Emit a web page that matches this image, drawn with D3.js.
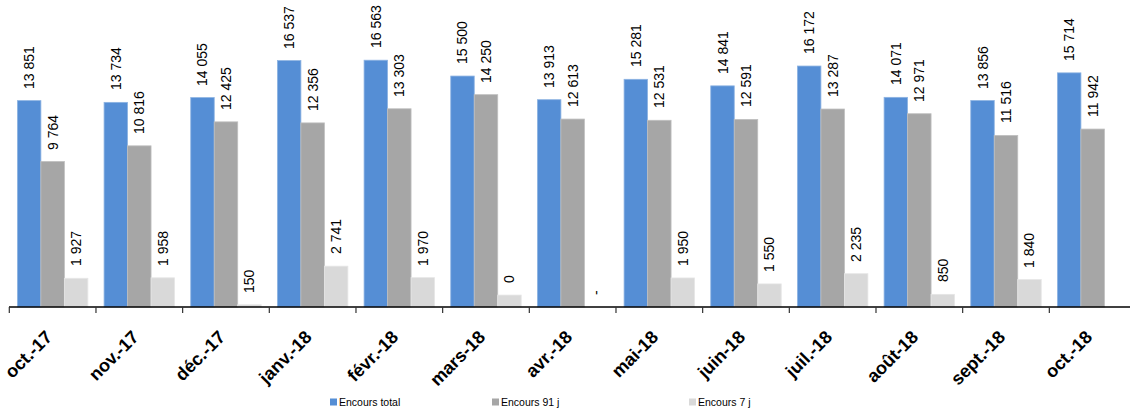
<!DOCTYPE html>
<html>
<head>
<meta charset="utf-8">
<script src="https://cdn.jsdelivr.net/npm/d3@7"></script>
<style>
  html, body { margin: 0; padding: 0; background: #fff; }
  #wrap { position: relative; width: 1130px; height: 413px; overflow: hidden; }
  svg { position: absolute; left: 0; top: 0; display: block; font-family: "Liberation Sans", Arial, sans-serif; }
  .lbl { position: absolute; white-space: nowrap; font-family: "Liberation Sans", Arial, sans-serif; color: #000; }
  .val { font-size: 14px; line-height: 16px; height: 16px; transform-origin: 0 0; transform: rotate(-90deg); }
  .cat { font-size: 18px; font-weight: bold; line-height: 20px; height: 20px; transform-origin: 100% 50%; transform: rotate(-45deg); }
</style>
</head>
<body>
<div id="wrap"><svg id="chart" width="1130" height="413"></svg></div>
<script>
// ---- data ----
const categories = ["oct.-17", "nov.-17", "déc.-17", "janv.-18", "févr.-18", "mars-18", "avr.-18",
                    "mai-18", "juin-18", "juil.-18", "août-18", "sept.-18", "oct.-18"];
const seriesNames = ["Encours total", "Encours 91 j", "Encours 7 j"];
const encoursTotal = [13851, 13734, 14055, 16537, 16563, 15500, 13913, 15281, 14841, 16172, 14071, 13856, 15714];
const encours91j   = [9764, 10816, 12425, 12356, 13303, 14250, 12613, 12531, 12591, 13287, 12971, 11516, 11942];
const encours7j    = [1927, 1958, 150, 2741, 1970, 800, 0, 1950, 1550, 2235, 850, 1840, null];
const labels7j     = ["1 927", "1 958", "150", "2 741", "1 970", "0", "-", "1 950", "1 550", "2 235", "850", "1 840", ""];
const colors = ["#558ED5", "#A6A6A6", "#D9D9D9"];
const strokes = ["#8DB3E2", "#BFBFBF", "#E6E6E6"];

// ---- layout ----
const svg = d3.select("#chart");
const wrap = d3.select("#wrap");
const baseY = 307;
const fmt = v => d3.format(",")(v).replace(/,/g, " ");

const x0 = d3.scaleBand().domain(categories).range([9.3, 1136]).paddingInner(0.187).paddingOuter(0.0935);
const x1 = d3.scaleBand().domain([0, 1, 2]).range([0, x0.bandwidth()]);
const y = d3.scaleLinear().domain([0, 20000]).range([baseY, 9]);

const series = [encoursTotal, encours91j, encours7j];
const labelSets = [encoursTotal.map(fmt), encours91j.map(fmt), labels7j];

const rows = [];
categories.forEach((c, i) => {
  series.forEach((vals, s) => {
    rows.push({ cat: c, s: s, v: vals[i], label: labelSets[s][i] });
  });
});

svg.selectAll("rect.bar")
  .data(rows.filter(r => r.v !== null && r.v > 0))
  .join("rect")
  .attr("class", "bar")
  .attr("x", r => x0(r.cat) + x1(r.s))
  .attr("width", x1.bandwidth())
  .attr("y", r => y(r.v))
  .attr("height", r => baseY - y(r.v))
  .attr("fill", r => colors[r.s])
  .attr("stroke", r => strokes[r.s])
  .attr("stroke-width", 0.8);

// value labels (rotated -90, reading upward from above the bar)
wrap.selectAll("div.val")
  .data(rows.filter(r => r.label !== ""))
  .join("div")
  .attr("class", "lbl val")
  .style("left", r => (x0(r.cat) + x1(r.s) + x1.bandwidth() / 2 - 8) + "px")
  .style("top", r => (y(r.v || 0) - 12) + "px")
  .text(r => r.label);

// ---- x axis ----
const step = x0.step();
svg.append("line")
  .attr("x1", 9).attr("x2", 1130).attr("y1", baseY).attr("y2", baseY)
  .attr("stroke", "#000").attr("stroke-width", 1.5);
const tickXs = d3.range(categories.length + 1).map(i => x0.range()[0] + i * step);
svg.selectAll("line.tick").data(tickXs).join("line")
  .attr("class", "tick")
  .attr("x1", d => d).attr("x2", d => d)
  .attr("y1", baseY).attr("y2", baseY + 6)
  .attr("stroke", "#333").attr("stroke-width", 1.2);

// category labels (rotated -45, ending near the band centre)
wrap.selectAll("div.cat")
  .data(categories)
  .join("div")
  .attr("class", "lbl cat")
  .style("right", d => (1130 - (x0(d) + x0.bandwidth() / 2 - 4)) + "px")
  .style("top", (baseY + 17) + "px")
  .text(d => d);

// ---- legend ----
const legendX = [330, 492, 689];
seriesNames.forEach((name, i) => {
  svg.append("rect").attr("x", legendX[i]).attr("y", 398.5).attr("width", 7).attr("height", 7)
    .attr("fill", colors[i]);
  svg.append("text").attr("x", legendX[i] + 9).attr("y", 406)
    .attr("font-size", 10.5).text(name);
});
</script>
</body>
</html>
